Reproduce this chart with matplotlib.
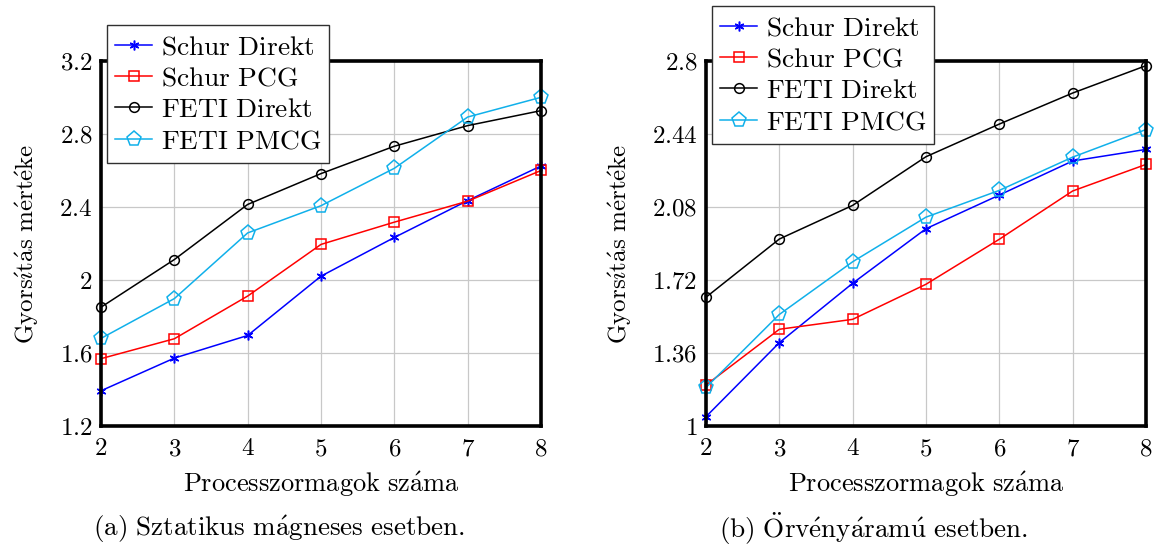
import matplotlib
matplotlib.use("Agg")
import matplotlib.pyplot as plt
from matplotlib.ticker import FixedLocator

plt.rcParams['mathtext.fontset'] = 'cm'
plt.rcParams['font.family'] = ['DejaVu Serif']

cores = [2, 3, 4, 5, 6, 7, 8]
series_names = [r'$\mathrm{Schur\ Direkt}$', r'$\mathrm{Schur\ PCG}$',
                r'$\mathrm{FETI\ Direkt}$', r'$\mathrm{FETI\ PMCG}$']

# (a) static magnetic case
a_schur_direkt = [1.393, 1.572, 1.696, 2.021, 2.233, 2.435, 2.625]
a_schur_pcg = [1.569, 1.678, 1.912, 2.195, 2.317, 2.432, 2.600]
a_feti_direkt = [1.851, 2.112, 2.414, 2.583, 2.733, 2.846, 2.928]
a_feti_pmcg = [1.680, 1.898, 2.258, 2.407, 2.612, 2.893, 3.001]
a_yticks = [1.2, 1.6, 2.0, 2.4, 2.8, 3.2]
a_yticklabels = ['$1.2$', '$1.6$', '$2$', '$2.4$', '$2.8$', '$3.2$']

# (b) eddy current case
b_schur_direkt = [1.046, 1.411, 1.704, 1.973, 2.139, 2.307, 2.364]
b_schur_pcg = [1.202, 1.477, 1.526, 1.699, 1.921, 2.159, 2.290]
b_feti_direkt = [1.635, 1.922, 2.088, 2.328, 2.489, 2.642, 2.777]
b_feti_pmcg = [1.190, 1.550, 1.810, 2.030, 2.162, 2.326, 2.462]
b_yticks = [1.0, 1.36, 1.72, 2.08, 2.44, 2.8]
b_yticklabels = ['$1$', '$1.36$', '$1.72$', '$2.08$', '$2.44$', '$2.8$']

xlabel = r'$\mathrm{Processzormagok\ sz\acute{a}ma}$'
ylabel = r'$\mathrm{Gyors\acute{\imath}t\acute{a}s\ m\acute{e}rt\acute{e}ke}$'
cap_a = r'$\mathrm{(a)\ Sztatikus\ m\acute{a}gneses\ esetben.}$'
cap_b = r'$\mathrm{(b)\ \ddot{O}rv\acute{e}ny\acute{a}ram\acute{u}\ esetben.}$'

colors = ['#0000ff', '#ff0000', '#000000', '#10b0ea']
markers = [(6, 2, 0), 's', 'o', 'p']
msizes = [7, 7, 7, 11]

W, H = 1157, 549
fig = plt.figure(figsize=(W / 100, H / 100), dpi=100)
FS = 18

def make(ax_rect, data, yticks, ylabels, leg_xy, caption, cap_x):
    ax = fig.add_axes(ax_rect)
    for vals, name, c, m, ms in zip(data, series_names, colors, markers, msizes):
        ax.plot(cores, vals, color=c, lw=1.1, marker=m, ms=ms,
                mfc='none' if m != (6, 2, 0) else c, mec=c, mew=1.1,
                label=name, clip_on=False, zorder=3)
    ax.set_xlim(2, 8)
    ax.set_ylim(yticks[0], yticks[-1])
    ax.xaxis.set_major_locator(FixedLocator(cores))
    ax.set_xticklabels(['$%d$' % c for c in cores])
    ax.yaxis.set_major_locator(FixedLocator(yticks))
    ax.set_yticklabels(ylabels)
    ax.tick_params(length=0, labelsize=FS)
    ax.tick_params(axis='x', pad=8)
    ax.tick_params(axis='y', pad=6)
    ax.grid(True, color='#c8c8c8', lw=0.9)
    for s in ax.spines.values():
        s.set_linewidth(2.6)
        s.set_zorder(4)
    ax.set_xlabel(xlabel, fontsize=19, labelpad=7)
    ax.set_ylabel(ylabel, fontsize=FS, labelpad=13)
    leg = ax.legend(loc='upper left', bbox_to_anchor=(leg_xy[0] / W, 1 - leg_xy[1] / H),
                    bbox_transform=fig.transFigure, borderaxespad=0, fontsize=19.8,
                    fancybox=False, framealpha=1, edgecolor='#303030',
                    handlelength=1.35, handletextpad=0.3, labelspacing=0.16,
                    borderpad=0.3)
    leg.get_frame().set_linewidth(1.0)
    leg.set_zorder(10)
    fig.text(cap_x / W, 1 - 529 / H, caption, fontsize=19.5, ha='center', va='center')
    return ax

make([101 / W, 1 - 426 / H, 440 / W, 365 / H],
     [a_schur_direkt, a_schur_pcg, a_feti_direkt, a_feti_pmcg],
     a_yticks, a_yticklabels, (107, 25), cap_a, 279)
make([706 / W, 1 - 426 / H, 440 / W, 365 / H],
     [b_schur_direkt, b_schur_pcg, b_feti_direkt, b_feti_pmcg],
     b_yticks, b_yticklabels, (712, 6), cap_b, 873)

fig.savefig('out.png', dpi=100)
